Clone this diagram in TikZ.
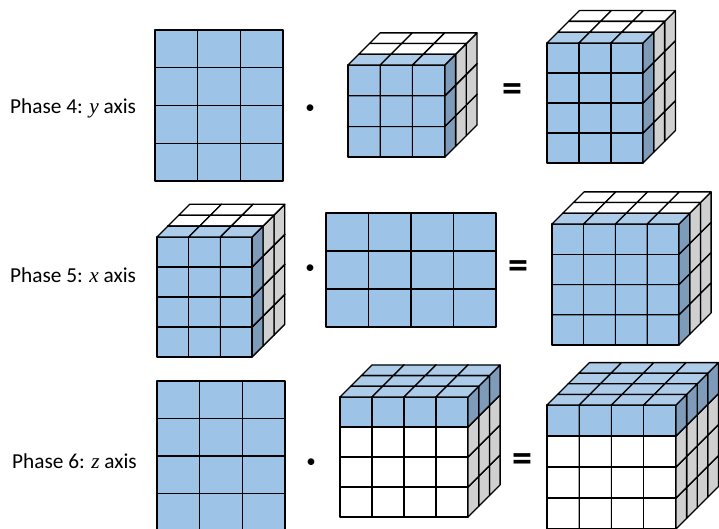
\documentclass[tikz,border=0pt]{standalone}
\usepackage{fontspec}
\setmainfont{Carlito}
\newfontfamily\ifont{Liberation Serif}
\definecolor{cfront}{RGB}{157,195,230}
\definecolor{ctop}{RGB}{172,204,234}
\definecolor{cside}{RGB}{126,156,186}
\definecolor{cgray}{RGB}{208,208,208}
\tikzset{
  face/.style={draw=black, line width=1.3pt, line join=round},
  lab/.style={inner sep=0pt, anchor=west, font=\fontsize{21.3}{24}\selectfont},
  eqsign/.style={inner sep=0pt, font=\fontsize{40}{42}\selectfont\bfseries},
  dotsign/.style={inner sep=0pt, font=\fontsize{19}{22}\selectfont}
}
% #1 x0, #2 y0, #3 cols, #4 rows, #5 depth, #6 w, #7 h, #8 d, #9 mode
\newcommand\cubestack[9]{%
  \pgfmathtruncatemacro\csCmax{#3-1}%
  \pgfmathtruncatemacro\csRmax{#4-1}%
  \pgfmathtruncatemacro\csKmax{#5-1}%
  \foreach \ki in {\csKmax,...,0}{%
    \foreach \ri in {\csRmax,...,0}{%
      \foreach \ci in {0,...,\csCmax}{%
        \pgfmathsetmacro\xx{#1+\ci*#6+\ki*#8}%
        \pgfmathsetmacro\yy{#2+\ri*#7-\ki*#8}%
        \ifnum#9=0\relax
          \ifnum\ki=0\relax\def\fc{cfront}\def\tc{ctop}\def\sc{cside}\else\def\fc{white}\def\tc{white}\def\sc{cgray}\fi
        \else
          \ifnum\ri=0\relax\def\fc{cfront}\def\tc{ctop}\def\sc{cside}\else\def\fc{white}\def\tc{white}\def\sc{cgray}\fi
        \fi
        \path[face,fill=\fc] (\xx,\yy) rectangle ++(#6,#7);
        \path[face,fill=\sc] (\xx+#6,\yy) -- ++(#8,-#8) -- ++(0,#7) -- ++(-#8,#8) -- cycle;
        \path[face,fill=\tc] (\xx,\yy) -- ++(#8,-#8) -- ++(#6,0) -- ++(-#8,#8) -- cycle;
      }}}}
% #1 x0, #2 y0, #3 cols, #4 rows, #5 w, #6 h
\newcommand\matgrid[6]{%
  \pgfmathtruncatemacro\mgCmax{#3-1}%
  \pgfmathtruncatemacro\mgRmax{#4-1}%
  \foreach \ri in {0,...,\mgRmax}{%
    \foreach \ci in {0,...,\mgCmax}{%
      \path[face,fill=cfront] (#1+\ci*#5,#2+\ri*#6) rectangle ++(#5,#6);
    }}}
\begin{document}
\begin{tikzpicture}[x=1pt,y=-1pt]
\useasboundingbox (0,0) rectangle (719,529);
\clip (0,0) rectangle (719,529);
% Phase 4
\node[lab] (l4) at (10,108) {Phase 4: {\ifont\itshape y} axis};
\matgrid{155}{30}{3}{4}{42.67}{37.75}
\node[dotsign] (d4) at (310,109) {•};
\cubestack{348}{65}{3}{3}{3}{32.3}{30.7}{10.7}{0}
\node[eqsign] (e4) at (512,93) {=};
\cubestack{547}{43}{3}{4}{3}{32}{30}{10.8}{0}
% Phase 5
\node[lab] (l5) at (10,275) {Phase 5: {\ifont\itshape x} axis};
\cubestack{157}{237}{3}{4}{3}{31.7}{30}{10.9}{0}
\node[dotsign] (d5) at (310,269) {•};
\matgrid{326}{213}{4}{3}{42.5}{38}
\node[eqsign] (e5) at (518,270) {=};
\cubestack{552}{224}{4}{4}{3}{31.75}{30.25}{10.7}{0}
% Phase 6
\node[lab] (l6) at (12,461) {Phase 6: {\ifont\itshape z} axis};
\matgrid{157}{381}{3}{4}{42.67}{37.5}
\node[dotsign] (d6) at (311,463) {•};
\cubestack{340}{397}{4}{4}{3}{32}{30}{10.7}{1}
\node[eqsign] (e6) at (522,463) {=};
\cubestack{547}{405}{4}{4}{4}{32.25}{31}{10.6}{1}
\end{tikzpicture}
\end{document}
